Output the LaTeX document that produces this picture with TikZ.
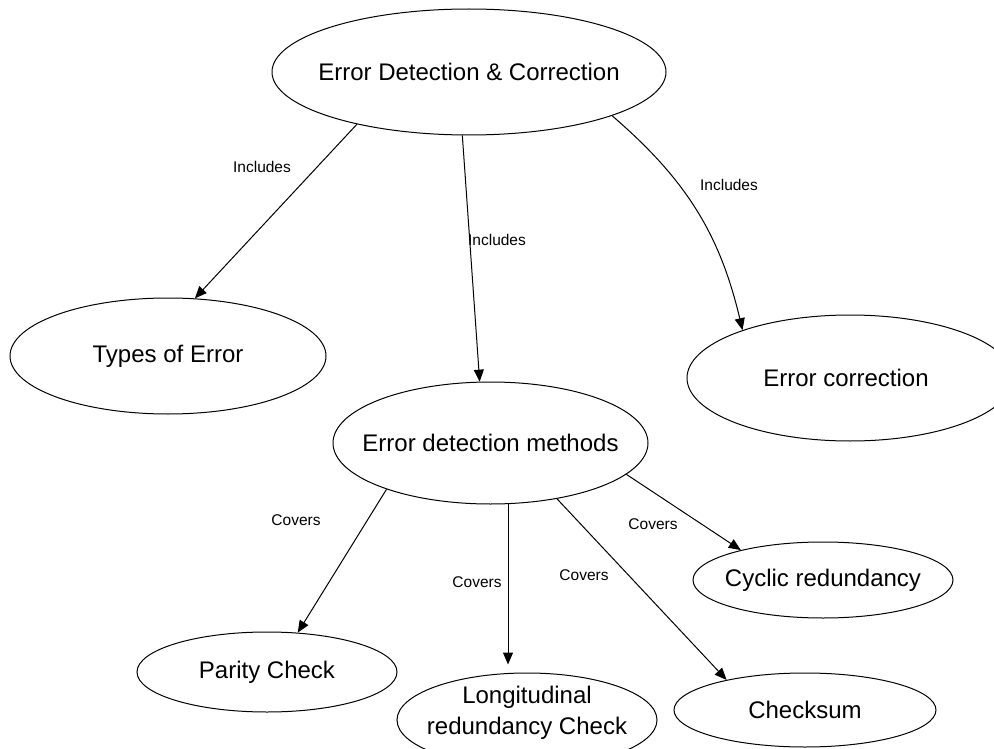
\documentclass[tikz,border=0pt]{standalone}
\usepackage{fontspec}
\setmainfont{Liberation Sans}
\usetikzlibrary{shapes.geometric,arrows.meta}
\begin{document}
\begin{tikzpicture}[x=1pt,y=-1pt,
  ell/.style={draw, ellipse, line width=1pt, inner sep=0pt, font=\fontsize{24}{31}\selectfont},
  maintext/.style={inner sep=0pt, font=\fontsize{24}{31}\selectfont, align=center},
  conn/.style={line width=1pt, -{Triangle[length=12pt,width=10pt]}},
  lbl/.style={font=\fontsize{15.5}{18}\selectfont, inner sep=0pt}]
\useasboundingbox (0,0) rectangle (994,749);
\clip (0,0) rectangle (994,749);

\node[ell, minimum width=394pt, minimum height=126pt] (edc) at (469,72) {\makebox[0pt]{Error Detection \& Correction}};
\node[ell, minimum width=316pt, minimum height=116pt] (types) at (168,356) {\makebox[0pt]{Types of Error}};
\node[ell, minimum width=326pt, minimum height=126pt] (corr) at (850,378) {\makebox[0pt]{\hspace*{-8pt}Error correction}};
\node[ell, minimum width=315pt, minimum height=122pt] (meth) at (490.5,443) {\makebox[0pt]{Error detection methods}};
\node[ell, minimum width=260pt, minimum height=76pt] (cyc) at (823,580) {\makebox[0pt]{Cyclic redundancy}};
\node[ell, minimum width=260pt, minimum height=80pt] (par) at (267,672) {\makebox[0pt]{Parity Check}};
\node[ell, minimum width=260pt, minimum height=94pt] (lrc) at (527,720) {};
\node[maintext] (lrctext) at (527,712.5) {Longitudinal\\redundancy Check};
\node[ell, minimum width=262pt, minimum height=74pt] (chk) at (805,710) {\makebox[0pt]{Checksum}};

\draw[conn] (edc.205) -- (types.65);
\draw[conn] (edc.264) -- (meth.100);
\draw[conn] (edc.343) to[bend left=18] (corr.156);

\draw[conn] (meth.204) -- (par.52);
\draw[conn, shorten >=8pt] (meth.286) -- (meth.286 |- lrc.north);
\draw[conn] (meth.320) -- (chk.159);
\draw[conn] (meth.347) -- (cyc.160);

\node[lbl] (l1) at (262,167) {Includes};
\node[lbl] (l2) at (497,240) {Includes};
\node[lbl] (l3) at (729,185) {Includes};
\node[lbl] (l4) at (296,520) {Covers};
\node[lbl] (l5) at (477,582) {Covers};
\node[lbl] (l6) at (584,575) {Covers};
\node[lbl] (l7) at (653,524) {Covers};
\end{tikzpicture}
\end{document}
